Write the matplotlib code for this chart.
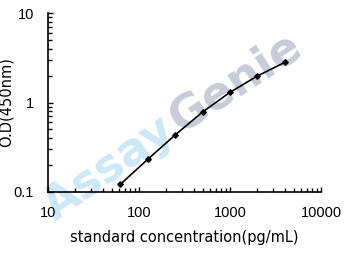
import matplotlib
matplotlib.use("Agg")
import matplotlib.pyplot as plt
from matplotlib.ticker import LogLocator, NullFormatter, FixedLocator

plt.rcParams['font.family'] = ['Liberation Sans', 'DejaVu Sans']

conc = [62.5, 125, 250, 500, 1000, 2000, 4000]
od = [0.122, 0.232, 0.434, 0.784, 1.30, 1.98, 2.81]
xticks = [10, 100, 1000, 10000]
xtick_labels = ["10", "100", "1000", "10000"]
yticks = [0.1, 1, 10]
ytick_labels = ["0.1", "1", "10"]

fig = plt.figure(figsize=(3.5, 2.57), dpi=100)
ax = fig.add_axes([0.137, 0.253, 0.78, 0.696])
ax.patch.set_alpha(0)

# watermark
fig.text(55 / 350, 1 - 222 / 257, "Assay", color="#cde8f6", fontsize=33,
         fontweight="bold", family="DejaVu Sans",
         rotation=35, rotation_mode="anchor", ha="left", va="baseline", zorder=-1)
fig.text(180 / 350, 1 - 134 / 257, "Genie", color="#c6cdd8", fontsize=33,
         fontweight="bold", family="DejaVu Sans",
         rotation=33, rotation_mode="anchor", ha="left", va="baseline", zorder=-1)

ax.plot(conc, od, color="black", lw=1.2, marker="D", ms=2.8, mfc="black", mec="black")

ax.set_xscale("log")
ax.set_yscale("log")
ax.set_xlim(10, 10000)
ax.set_ylim(0.1, 10)
ax.xaxis.set_major_locator(FixedLocator(xticks))
ax.set_xticklabels(xtick_labels)
ax.yaxis.set_major_locator(FixedLocator(yticks))
ax.set_yticklabels(ytick_labels)
ax.xaxis.set_minor_locator(LogLocator(base=10, subs=range(2, 10)))
ax.yaxis.set_minor_locator(LogLocator(base=10, subs=range(2, 10)))
ax.xaxis.set_minor_formatter(NullFormatter())
ax.yaxis.set_minor_formatter(NullFormatter())

for s in ["top", "right"]:
    ax.spines[s].set_visible(False)
for s in ["left", "bottom"]:
    ax.spines[s].set_linewidth(1.2)

ax.tick_params(which="major", direction="in", length=3.6, width=1, labelsize=10.5, pad=10)
ax.tick_params(which="minor", direction="in", length=2.8, width=1)

ax.set_xlabel("standard concentration(pg/mL)", fontsize=10.5, family="DejaVu Sans")
ax.xaxis.set_label_coords(0.5, -0.215)
ax.set_ylabel("O.D(450nm)", fontsize=10.5, family="DejaVu Sans")
ax.yaxis.set_label_coords(-0.125, 0.5)

fig.savefig("out.png", dpi=100)
